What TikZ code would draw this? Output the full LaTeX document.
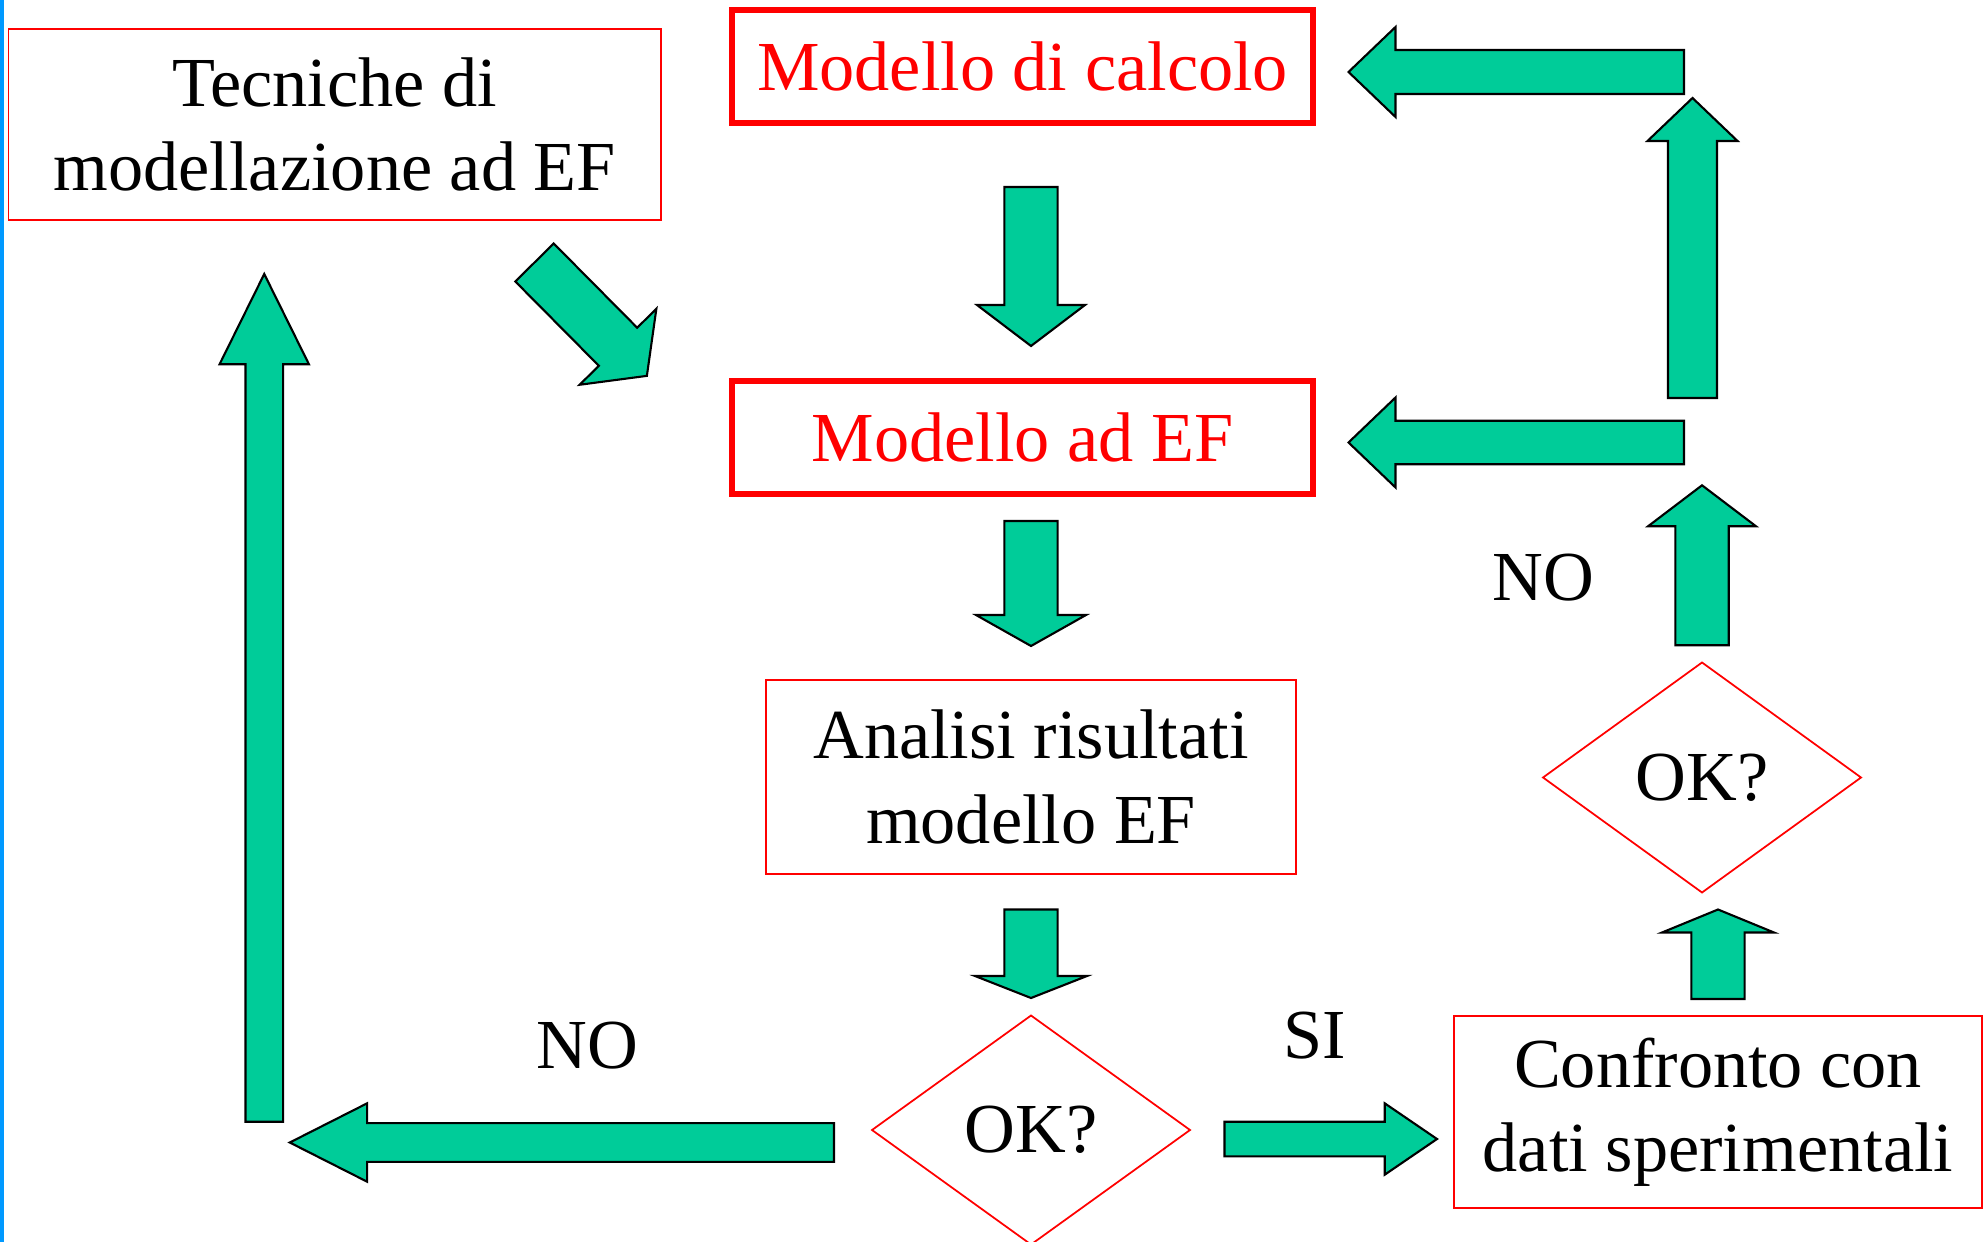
\documentclass[tikz,border=0pt]{standalone}
\usepackage{fontspec}
\setmainfont{Liberation Serif}
\usetikzlibrary{shapes.geometric,positioning,calc}

\definecolor{flowgreen}{RGB}{0,204,153}
\definecolor{edgeblue}{RGB}{0,153,255}

% block arrow: from, to, shaft half width, head half width, head length
\newcommand{\blockarrow}[5]{%
  \draw[flow] let \p1=#1, \p2=#2,
    \n1={atan2(\y2-\y1,\x2-\x1)}, \n2={veclen(\x2-\x1,\y2-\y1)} in
    {[shift={(\p1)}, rotate=\n1]
      (0,#3) -- ({\n2*1pt-#5},#3) -- ({\n2*1pt-#5},#4) -- ({\n2*1pt},0)
      -- ({\n2*1pt-#5},-#4) -- ({\n2*1pt-#5},-#3) -- (0,-#3) -- cycle};%
}

\begin{document}
\begin{tikzpicture}[
		node distance=1cm,
		box/.style={rectangle, draw=red, line width=0.5pt, outer sep=0pt, inner sep=0.1cm, align=center, font=\fontsize{20}{24}\selectfont},
		model/.style={box, line width=1.7pt, text=red, minimum width=5.81cm, minimum height=1.13cm},
		test/.style={diamond, draw=red, line width=0.5pt, outer sep=0pt, inner sep=0pt, minimum width=3.18cm, minimum height=2.29cm, font=\fontsize{20}{24}\selectfont},
		lbl/.style={font=\fontsize{20}{24}\selectfont},
		flow/.style={fill=flowgreen, draw=black, line width=0.6pt, line join=miter}
		]
		\useasboundingbox (0,0) rectangle (19.84,-12.42);

		% blue edge on the left
		\fill[edgeblue] (0,0) rectangle (0.045,-12.42);

		% Modelling techniques
		\node[box, minimum width=6.525cm, minimum height=1.91cm] (tecniche) at (3.3475,-1.245) {Tecniche di\\modellazione ad EF};

		% Main column
		\node[model] (calcolo) at (10.225,-0.665) {Modello di calcolo};
		\node[model, below=2.58cm of calcolo] (ef) {Modello ad EF};
		\node[box, below=1.86cm of ef, xshift=0.085cm, minimum width=5.3cm, minimum height=1.94cm] (analisi) {Analisi risultati\\modello EF};
		\node[test, below=1.415cm of analisi] (ok1) {OK?};

		% Comparison with experiments
		\node[box, minimum width=5.28cm, minimum height=1.92cm] (confronto) at (17.18,-11.12) {Confronto con\\dati sperimentali};
		\node[test, above=1.235cm of confronto, xshift=-0.16cm, minimum height=2.3cm] (ok2) {OK?};

		% Arrows down the main column
		\blockarrow{($(calcolo.south -| analisi.north)+(0,-0.64)$)}{($(ef.north -| analisi.north)+(0,0.35)$)}{0.266cm}{0.54cm}{0.41cm}
		\blockarrow{($(ef.south -| analisi.north)+(0,-0.27)$)}{($(analisi.north)+(0,0.34)$)}{0.266cm}{0.55cm}{0.31cm}
		\blockarrow{($(analisi.south)+(0,-0.355)$)}{($(ok1.north)+(0,0.175)$)}{0.266cm}{0.56cm}{0.22cm}

		% NO: back to the modelling techniques
		\blockarrow{($(ok1.west)+(-0.38,-0.125)$)}{($(tecniche.south |- ok1.west)+(-0.45,-0.125)$)}{0.194cm}{0.392cm}{0.774cm}
		\blockarrow{($(tecniche.south |- ok1.west)+(-0.705,0.083)$)}{($(tecniche.south)+(-0.705,-0.54)$)}{0.188cm}{0.447cm}{0.903cm}
		\blockarrow{($(tecniche.south east)+(-1.265,-0.425)$)}{($(ef.west)+(-0.85,0.615)$)}{0.27cm}{0.54cm}{0.41cm}

		% SI: on to the comparison
		\blockarrow{($(ok1.east)+(0.345,-0.09)$)}{($(ok1.east -| confronto.west)+(-0.17,-0.09)$)}{0.173cm}{0.357cm}{0.523cm}
		\blockarrow{($(confronto.north)+(0,0.17)$)}{($(confronto.north)+(0,1.065)$)}{0.266cm}{0.56cm}{0.23cm}

		% NO: back to the models
		\blockarrow{($(ok2.north)+(0,0.173)$)}{($(ok2.north)+(0,1.772)$)}{0.267cm}{0.54cm}{0.41cm}
		\blockarrow{($(ef.east)+(3.71,-0.05)$)}{($(ef.east)+(0.355,-0.05)$)}{0.218cm}{0.45cm}{0.47cm}
		\blockarrow{($(ef.east)+(3.795,0.395)$)}{($(calcolo.east)+(3.795,-0.315)$)}{0.245cm}{0.45cm}{0.43cm}
		\blockarrow{($(calcolo.east)+(3.71,-0.055)$)}{($(calcolo.east)+(0.355,-0.055)$)}{0.22cm}{0.45cm}{0.47cm}

		% Labels
		\node[lbl] (no1) at (5.875,-10.455) {NO};
		\node[lbl] (si) at (13.145,-10.355) {SI};
		\node[lbl] (no2) at (15.435,-5.78) {NO};

	\end{tikzpicture}
\end{document}
